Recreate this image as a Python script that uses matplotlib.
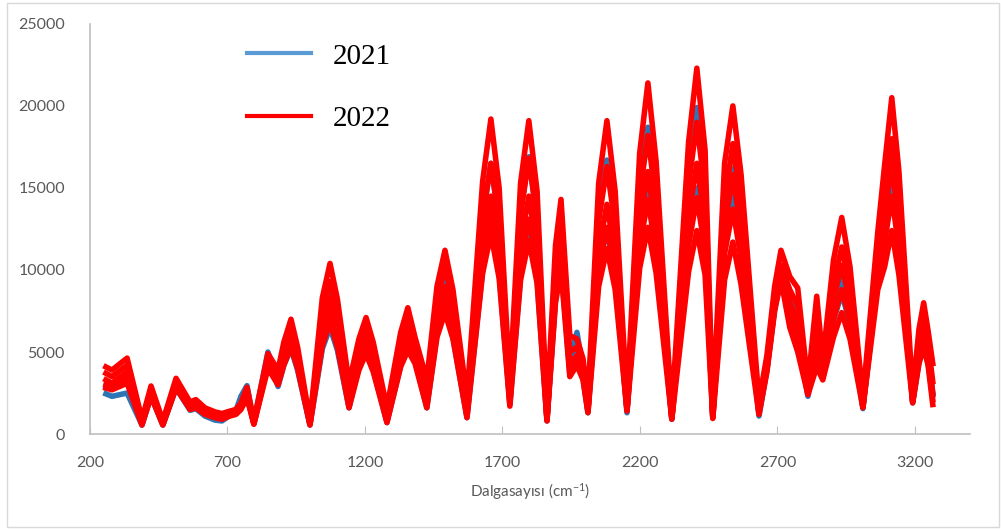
import matplotlib
matplotlib.use("Agg")
import matplotlib.pyplot as plt
from matplotlib.patches import Rectangle
from matplotlib.lines import Line2D

# dalgasayisi noktalari (cm-1)
wavenumber = [258, 280, 335, 389, 422, 465, 513, 564, 585, 618, 655, 680, 709, 731, 749,
              771, 796, 847, 884, 905, 931, 955, 1000, 1045, 1073, 1100, 1142, 1178, 1204,
              1230, 1280, 1330, 1356, 1382, 1425, 1462, 1491, 1520, 1571, 1628, 1658, 1688,
              1727, 1766, 1796, 1826, 1862, 1893, 1913, 1945, 1971, 1993, 2011, 2050, 2080,
              2110, 2153, 2199, 2229, 2259, 2316, 2377, 2407, 2437, 2465, 2508, 2538, 2568,
              2633, 2662, 2690, 2713, 2745, 2774, 2811, 2843, 2865, 2904, 2934, 2964, 3011,
              3065, 3090, 3116, 3142, 3192, 3215, 3232, 3248, 3265]

# 2022 - kirmizi spektrumlar
red_top = [4090, 3900, 4630, 900, 2930, 800, 3400, 1950, 2100, 1600, 1350, 1250, 1400, 1500, 1900,
           2850, 800, 4900, 3900, 5600, 7000, 5300, 800, 8300, 10400, 8200, 3100, 5800, 7100,
           5600, 1600, 6200, 7700, 5900, 3300, 9000, 11200, 8800, 2200, 15400, 19200, 15000,
           3000, 15300, 19100, 14800, 1400, 11500, 14300, 6000, 5800, 4600, 2000, 15300, 19100,
           14800, 2000, 17100, 21400, 16600, 1400, 17800, 22300, 17300, 1500, 16500, 20000, 15800,
           2000, 4800, 9000, 11200, 9600, 8900, 3000, 8400, 4500, 10600, 13200, 10200, 2200,
           12300, 16400, 20500, 16000, 2500, 6400, 8000, 6300, 4300]
red_hi = [3700, 3500, 4200, 750, 2700, 700, 3200, 1800, 1900, 1450, 1250, 1150, 1300, 1400, 1700,
          2600, 700, 4600, 3600, 5200, 6500, 4900, 700, 7400, 9300, 7300, 2500, 5200, 6400,
          5000, 1200, 5500, 6900, 5500, 2500, 8100, 10200, 8000, 1700, 13200, 16500, 12900,
          2500, 13400, 16800, 13000, 1100, 10300, 12800, 5000, 5300, 4200, 1700, 13000, 16300,
          12700, 1700, 14600, 18200, 14100, 1100, 15200, 19000, 14700, 1200, 14200, 17700, 13900,
          1600, 4500, 8300, 10300, 8800, 7800, 2700, 7300, 4000, 9100, 11400, 8900, 1900,
          10800, 14400, 18000, 14000, 2200, 5600, 7000, 5500, 3200]
red_mid = [3300, 3100, 3800, 650, 2500, 600, 3000, 1650, 1750, 1300, 1100, 1000, 1200, 1300, 1600,
           2400, 650, 4300, 3300, 4700, 5900, 4400, 650, 6600, 8300, 6500, 2000, 4600, 5800,
           4500, 900, 5000, 6200, 5000, 2000, 7200, 9000, 7000, 1300, 11600, 14500, 11300,
           2100, 11600, 14500, 11300, 900, 9000, 11300, 4300, 4800, 3800, 1500, 11200, 14000,
           10900, 1500, 12800, 16000, 12400, 1000, 13200, 16500, 12800, 1050, 12600, 15800, 12300,
           1400, 4200, 7900, 9800, 8000, 6800, 2500, 6200, 3600, 8200, 10300, 8000, 1700,
           10000, 13200, 16500, 12800, 2000, 5000, 6200, 4900, 2500]
red_mid2 = [3000, 2900, 3400, 600, 2400, 580, 2900, 1580, 1680, 1250, 1050, 950, 1150, 1250, 1550,
            2300, 620, 4150, 3150, 4450, 5600, 4200, 600, 6000, 7600, 5900, 1800, 4250, 5350,
            4150, 800, 4550, 5650, 4650, 1800, 6500, 8200, 6400, 1150, 10700, 13400, 10400,
            1900, 10500, 13100, 10200, 850, 8500, 10600, 3900, 4500, 3550, 1400, 10100, 12600,
            9800, 1450, 11400, 14300, 11100, 950, 11500, 14400, 11200, 1000, 11000, 13700, 10700,
            1300, 4000, 7700, 9600, 7200, 5900, 2450, 5100, 3450, 7000, 8800, 6900, 1650,
            9400, 11700, 14500, 11300, 1950, 4650, 5750, 4550, 2100]
red_low = [2800, 2700, 3100, 550, 2300, 550, 2800, 1500, 1600, 1200, 1000, 900, 1100, 1200, 1500,
           2200, 600, 4000, 3000, 4200, 5300, 4000, 550, 5400, 6800, 5300, 1600, 3900, 4900,
           3800, 700, 4100, 5100, 4300, 1600, 5900, 7400, 5800, 1000, 9800, 12200, 9500,
           1700, 9400, 11800, 9200, 800, 8000, 10000, 3500, 4200, 3300, 1300, 9000, 11300,
           8800, 1400, 10100, 12600, 9800, 900, 9900, 12400, 9700, 950, 9400, 11700, 9100,
           1200, 3800, 7500, 9400, 6500, 5000, 2400, 4100, 3300, 5900, 7400, 5800, 1600,
           8800, 10200, 12400, 9700, 1900, 4300, 5300, 4200, 1800]

# 2021 - mavi spektrumlar
blue_mid = [2900, 2800, 3300, 650, 2500, 650, 3000, 1600, 1700, 1250, 1000, 950, 1250, 1450, 2300,
            2950, 700, 5000, 3300, 4800, 6000, 4500, 650, 7000, 8800, 6900, 2200, 5000, 6200,
            4800, 1000, 5300, 6600, 5200, 2200, 7600, 9500, 7400, 1400, 13200, 16500, 12900,
            2200, 13500, 16900, 13100, 1000, 9800, 12300, 4500, 6200, 4000, 1500, 13400, 16700,
            13000, 1500, 15000, 18700, 14500, 1000, 15900, 19900, 15500, 1100, 13000, 16200, 12600,
            1300, 4300, 8000, 10000, 8500, 7500, 2500, 6500, 3700, 7600, 9500, 7400, 1700,
            10500, 13600, 17000, 13200, 2000, 5200, 6500, 5100, 2500]
blue_low = [2450, 2300, 2500, 550, 2300, 550, 2800, 1450, 1550, 1100, 850, 800, 1150, 1300, 2100,
            2700, 650, 4600, 2900, 4200, 5200, 3900, 550, 5200, 6500, 5100, 1600, 4100, 5100,
            4000, 700, 4200, 5200, 4500, 1600, 6100, 7600, 5900, 1000, 10000, 12500, 9800,
            1800, 9600, 12000, 9400, 800, 8200, 10300, 3700, 5500, 3400, 1300, 10000, 12500,
            9800, 1300, 11800, 14800, 11500, 900, 12000, 15000, 11700, 1000, 11600, 14500, 11300,
            1100, 3900, 7600, 9500, 7200, 6000, 2300, 5200, 3400, 6900, 8600, 6700, 1550,
            9500, 12400, 15500, 12100, 1900, 4400, 5500, 4300, 2400]

blue_spectra = [blue_mid, blue_low]
red_spectra = [red_top, red_hi, red_mid, red_mid2, red_low]

fig = plt.figure(figsize=(10.01, 5.30), dpi=100)
ax = fig.add_axes([0.0899, 0.181, 0.879, 0.774])

blue = '#2E75B6'
red = '#FF0000'
for s in blue_spectra:
    ax.plot(wavenumber, s, color=blue, lw=4, solid_joinstyle='round')
for s in red_spectra:
    ax.plot(wavenumber, s, color=red, lw=4, solid_joinstyle='round')

ax.set_xlim(200, 3400)
ax.set_ylim(0, 25000)
ax.set_xticks([200, 700, 1200, 1700, 2200, 2700, 3200])
ax.set_yticks([0, 5000, 10000, 15000, 20000, 25000])

for side in ['top', 'right']:
    ax.spines[side].set_visible(False)
for side in ['left', 'bottom']:
    ax.spines[side].set_color('#BFBFBF')
    ax.spines[side].set_linewidth(1.2)

ax.tick_params(axis='y', length=0, pad=18, labelsize=11.5, labelcolor='#595959')
ax.tick_params(axis='x', direction='in', length=6, color='#BFBFBF', pad=16,
               labelsize=11.5, labelcolor='#595959')
for lab in ax.get_xticklabels() + ax.get_yticklabels():
    lab.set_family('Lato')

plt.rcParams['mathtext.default'] = 'regular'
ax.set_xlabel('Dalgasayısı (cm$^{-1}$)', fontsize=11, color='#595959', family='Lato', labelpad=8)

# legend
h1 = Line2D([], [], color='#5B9BD5', lw=3)
h2 = Line2D([], [], color=red, lw=3)
ax.legend([h1, h2], ['2021', '2022'], loc='upper left', bbox_to_anchor=(0.178, 0.953),
          frameon=False, prop={'family': 'Liberation Serif', 'size': 21},
          handlelength=2.2, handletextpad=0.75, labelspacing=1.23,
          borderpad=0, borderaxespad=0)

fig.patches.append(Rectangle((7 / 1001, 3 / 530), 992 / 1001, 524 / 530,
                             transform=fig.transFigure, fill=False,
                             edgecolor='#D9D9D9', lw=1))

fig.savefig('out.png', dpi=100)
